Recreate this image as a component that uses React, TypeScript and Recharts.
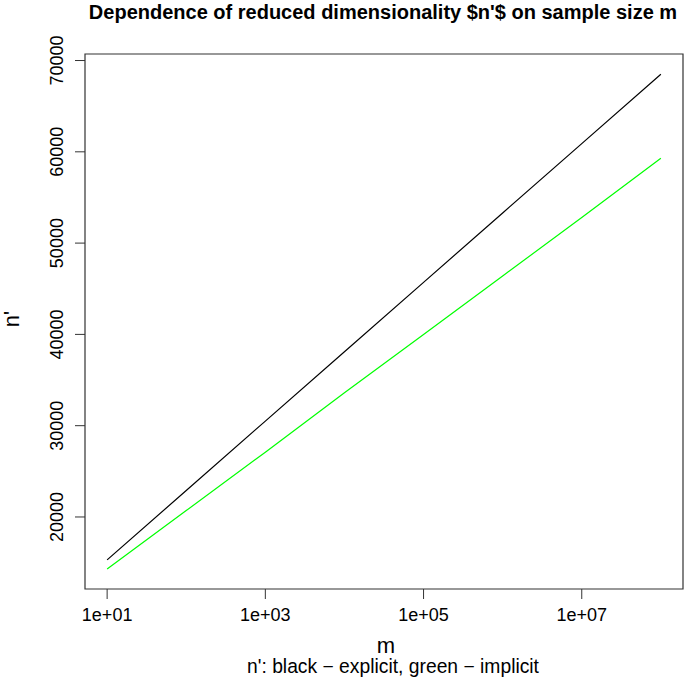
import React from "react"
import { LineChart, Line, XAxis, YAxis, ReferenceArea } from "recharts"

// sample size m (log scale) and reduced dimensionality n'
const mValues = [1e1, 1e2, 1e3, 1e4, 1e5, 1e6, 1e7, 1e8]
const explicitN = [15300, 22900, 30500, 38100, 45700, 53300, 60900, 68500]
const implicitN = [14300, 20700, 27100, 33600, 40000, 46400, 52800, 59300]

const xTicks = [1e1, 1e3, 1e5, 1e7]
const xTickLabels = ["1e+01", "1e+03", "1e+05", "1e+07"]
const yTicks = [20000, 30000, 40000, 50000, 60000, 70000]

const xDomain = [5.25, 1.905e8]
const yDomain = [12110, 70715]

const FONT = "'Liberation Sans', Arial, Helvetica, sans-serif"

const data = mValues.map((m, i) => ({ m, explicit: explicitN[i], implicit: implicitN[i] }))

function XTick(props: any) {
  const { x, y, payload } = props
  const idx = xTicks.indexOf(payload.value)
  return (
    <text x={x} y={y + 20} textAnchor="middle" fontSize={18} fontFamily={FONT} fill="#000">
      {idx >= 0 ? xTickLabels[idx] : payload.value}
    </text>
  )
}

function YTick(props: any) {
  const { x, y, payload } = props
  const bx = x - 10
  return (
    <text x={bx} y={y} transform={`rotate(-90, ${bx}, ${y})`} textAnchor="middle" fontSize={18} fontFamily={FONT} fill="#000">
      {String(payload.value)}
    </text>
  )
}

export default function App() {
  return (
    <div style={{ position: "absolute", left: 0, top: 0, width: 685, height: 688, background: "#fff" }}>
      <LineChart width={685} height={688} data={data} margin={{ top: 54, right: 2, left: 0, bottom: 0 }}>
        <XAxis
          dataKey="m"
          type="number"
          scale="log"
          domain={xDomain}
          allowDataOverflow
          ticks={xTicks}
          tick={<XTick />}
          tickSize={10}
          axisLine={false}
          tickLine={{ stroke: "#333" }}
          height={99}
        />
        <YAxis
          type="number"
          domain={yDomain}
          allowDataOverflow
          ticks={yTicks}
          tick={<YTick />}
          tickSize={10}
          axisLine={false}
          tickLine={{ stroke: "#333" }}
          width={85}
        />
        <ReferenceArea x1={xDomain[0]} x2={xDomain[1]} y1={yDomain[0]} y2={yDomain[1]} fill="none" stroke="#333" strokeWidth={1.2} />
        <Line dataKey="explicit" stroke="#000000" strokeWidth={1.2} dot={false} isAnimationActive={false} />
        <Line dataKey="implicit" stroke="#00ff00" strokeWidth={1.2} dot={false} isAnimationActive={false} />
      </LineChart>
      <svg width={685} height={688} style={{ position: "absolute", left: 0, top: 0, pointerEvents: "none" }}>
        <text x={383} y={19} textAnchor="middle" fontSize={20} fontWeight="bold" fontFamily={FONT} fill="#000">
          Dependence of reduced dimensionality $n'$ on sample size m
        </text>
        <text x={386} y={653} textAnchor="middle" fontSize={22} fontFamily={FONT} fill="#000">
          m
        </text>
        <text x={19} y={319} transform="rotate(-90, 19, 319)" textAnchor="middle" fontSize={22} fontFamily={FONT} fill="#000">
          n'
        </text>
        <text x={393} y={673} textAnchor="middle" fontSize={19.3} fontFamily={FONT} fill="#000">
          n': black − explicit, green − implicit
        </text>
      </svg>
    </div>
  )
}
